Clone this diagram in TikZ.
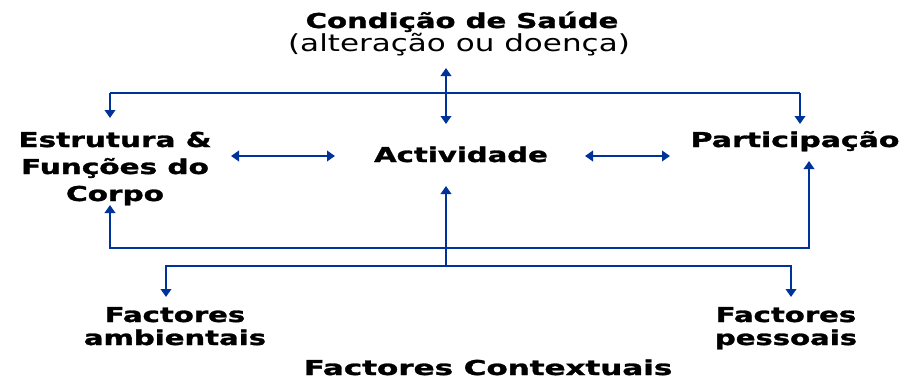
\documentclass[tikz,border=0pt]{standalone}
\usepackage{fontspec}
\setmainfont{DejaVu Sans}[BoldFeatures={FakeBold=1.3}]
\usetikzlibrary{arrows.meta}
\definecolor{icfblue}{RGB}{0,51,153}
\newcommand{\wide}[2][1.42]{\scalebox{#1}[1]{#2}}
\begin{document}
\begin{tikzpicture}[x=1pt,y=-1pt,
  lbl/.style={inner sep=0pt, anchor=base},
  tip/.tip={Triangle[width=10.5pt,length=8pt]},
  conn/.style={draw=icfblue, line width=2.2pt, -tip},
  dconn/.style={draw=icfblue, line width=2.2pt, tip-tip},
  line/.style={draw=icfblue, line width=2.2pt},
  bfont/.style={font=\fontsize{20.5}{27}\selectfont\bfseries}]
\useasboundingbox (0,0) rectangle (902,380);
% texts
\node[lbl,bfont] (cond) at (462,28) {\wide{Condição de Saúde}};
\node[lbl,font=\fontsize{23.5}{25}\selectfont] (alt) at (459,51) {\wide[1.32]{(alteração ou doença)}};
\node[lbl,bfont] (act) at (461,162) {\wide{Actividade}};
\node[lbl,bfont] (est) at (115,147) {\wide[1.44]{\begin{tabular}[t]{@{}c@{}}Estrutura \&\\Funções do\\Corpo\end{tabular}}};
\node[lbl,bfont] (part) at (795,147) {\wide[1.46]{Participação}};
\node[lbl,font=\fontsize{20.5}{23}\selectfont\bfseries] (amb) at (175,322) {\wide{\begin{tabular}[t]{@{}c@{}}Factores\\ambientais\end{tabular}}};
\node[lbl,font=\fontsize{20.5}{23}\selectfont\bfseries] (pes) at (786,322) {\wide{\begin{tabular}[t]{@{}c@{}}Factores\\pessoais\end{tabular}}};
\node[lbl,bfont] (ctx) at (488,375) {\wide[1.51]{Factores Contextuais}};
% connector coordinates
\coordinate (cU) at (446,68);
\coordinate (cD) at (446,124);
\coordinate (tL) at (110,93);
\coordinate (tR) at (800,93);
\coordinate (estTop) at (110,118);
\coordinate (partTop) at (800,124);
\coordinate (eaL) at (231,156);
\coordinate (eaR) at (335,156);
\coordinate (apL) at (585,156);
\coordinate (apR) at (670,156);
\coordinate (bL) at (110,248);
\coordinate (bR) at (809,248);
\coordinate (estBot) at (110,205);
\coordinate (partBot) at (809,161);
\coordinate (mB) at (446,266);
\coordinate (mT) at (446,186);
\coordinate (lL) at (166,266);
\coordinate (lR) at (791,266);
\coordinate (ambTop) at (166,297);
\coordinate (pesTop) at (791,297);
% connectors
\draw[dconn] (cU) -- (cD);
\draw[line] (tL) -- (tR);
\draw[conn] (tL) -- (estTop);
\draw[conn] (tR) -- (partTop);
\draw[dconn] (eaL) -- (eaR);
\draw[dconn] (apL) -- (apR);
\draw[conn] (bR) -- (bL) -- (estBot);
\draw[conn] (bL) -- (bR) -- (partBot);
\draw[conn] (mB) -- (mT);
\draw[conn] (mB) -- (lL) -- (ambTop);
\draw[conn] (mB) -- (lR) -- (pesTop);
\end{tikzpicture}
\end{document}
